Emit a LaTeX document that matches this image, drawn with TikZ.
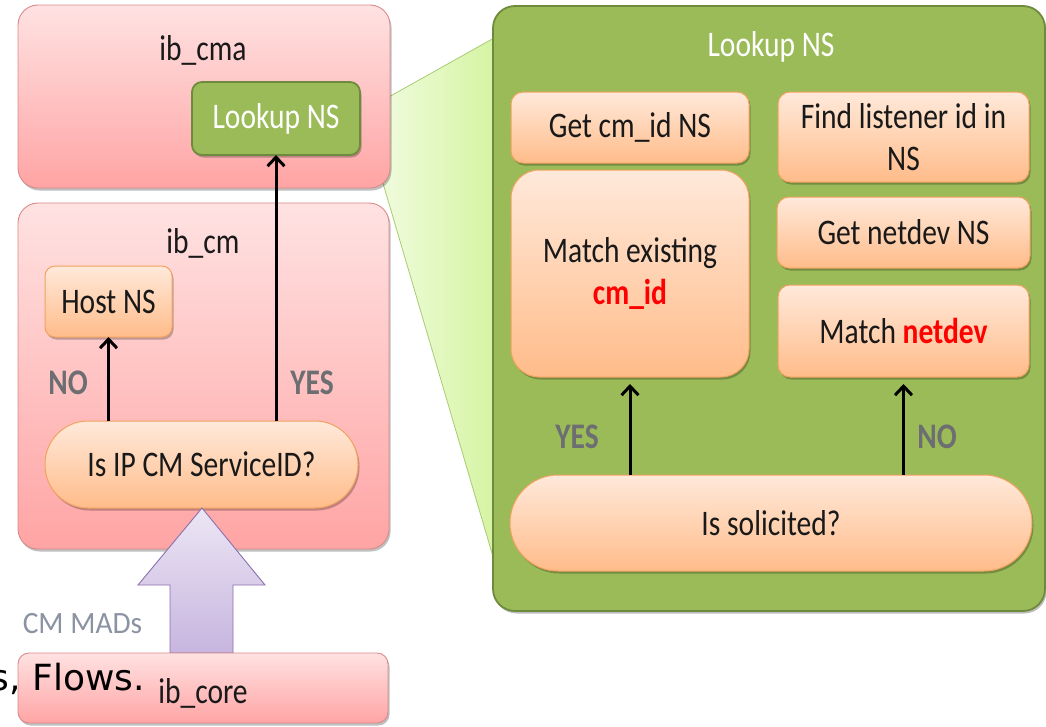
\documentclass[tikz,border=0pt]{standalone}
\usepackage{fontspec}
\setmainfont{Carlito}[FakeStretch=0.82]
\newfontfamily\madfont{Carlito}[FakeStretch=0.95]
\newfontfamily\flowfont{DejaVu Sans}
\usetikzlibrary{arrows.meta,shadows}

\definecolor{pinktop}{HTML}{FFE2E2}
\definecolor{pinkbot}{HTML}{FFA4A4}
\definecolor{pinkline}{HTML}{D98A88}
\definecolor{orangetop}{HTML}{FFE9DA}
\definecolor{orangebot}{HTML}{FFBC8A}
\definecolor{orangeline}{HTML}{F2A25E}
\definecolor{leaf}{HTML}{9BBB59}
\definecolor{leafline}{HTML}{6E8B3D}
\definecolor{zoomleft}{HTML}{F4FDE8}
\definecolor{zoomright}{HTML}{D5F4A2}
\definecolor{zoomline}{HTML}{A8CC70}
\definecolor{madtop}{HTML}{ECE6F4}
\definecolor{madbot}{HTML}{C7B5DF}
\definecolor{madline}{HTML}{8A70AE}
\definecolor{answer}{HTML}{6D6E71}
\definecolor{madtext}{HTML}{8B93A3}
\definecolor{hot}{HTML}{FF0000}

\tikzset{
  base/.style={font=\fontsize{36}{42}\selectfont, outer sep=0pt, inner sep=0pt},
  softshadow/.style={drop shadow={shadow xshift=1.5pt, shadow yshift=-2.5pt, opacity=0.25, fill=black}},
  layer/.style={base, draw=pinkline, line width=0.9pt, top color=pinktop, bottom color=pinkbot, rounded corners=20pt, softshadow},
  stepbox/.style={base, draw=orangeline, line width=1pt, top color=orangetop, bottom color=orangebot, rounded corners=12pt, softshadow, text=black!90, align=center},
  greenbox/.style={base, draw=leafline, line width=1.8pt, fill=leaf, text=white, softshadow},
  caption/.style={base, text=black!90},
  answerlbl/.style={base, font=\bfseries\fontsize{36}{42}\selectfont, text=answer},
  flowarrow/.style={line width=3pt, -{Straight Barb[length=9pt,width=17pt,line width=3pt]}},
}

\begin{document}
\begin{tikzpicture}[x=1pt,y=-1pt]
\useasboundingbox (0,0) rectangle (1046,726);

% zoom wedge from the small Lookup NS box to the enlarged view
\coordinate (wtip) at (362,112);
\coordinate (wtop) at (494,38);
\coordinate (wbot) at (494,560);
\shade[left color=zoomleft, right color=zoomright, draw=zoomline, line width=0.8pt]
  (wtip) -- (wtop) -- (wbot) -- cycle;

% ib_cma layer
\node[layer, minimum width=372, minimum height=183] (cma) at (204,96.5) {};
\node[caption] (cmat) at (203,50) {ib\_cma};
\node[greenbox, rounded corners=10pt, minimum width=168, minimum height=73] (lookup) at (276,118.5) {Lookup NS};

% ib_cm layer
\node[layer, minimum width=371, minimum height=346] (cm) at (203.5,376) {};
\node[caption] (cmt) at (203,243) {ib\_cm};
\node[stepbox, rounded corners=10pt, minimum width=127, minimum height=71] (host) at (108.5,301.5) {Host NS};
\node[stepbox, rounded corners=43pt, minimum width=313, minimum height=87] (isip) at (201.5,464.5) {Is IP CM ServiceID?};

\draw[flowarrow] (isip.north -| host.south) -- (host.south);
\draw[flowarrow] (isip.north -| lookup.south) -- (lookup.south);
\node[answerlbl] (no1) at (68,383) {NO};
\node[answerlbl] (yes1) at (312,383) {YES};

% CM MADs block arrow
\shade[top color=madtop, bottom color=madbot, draw=madline, line width=0.9pt]
  (170,653) -- (170,585) -- (138,585) -- (202,508) -- (265,585) -- (233,585) -- (233,653) -- cycle;
\node[base, font=\madfont\fontsize{31}{36}\selectfont, text=madtext] (mads) at (82.5,624) {CM MADs};

% ib_core layer
\node[layer, rounded corners=11pt, minimum width=370, minimum height=70] (core) at (203,688) {};
\node[caption] (coret) at (203,693) {ib\_core};
\node[base, anchor=base east, font=\flowfont\fontsize{36}{40}\selectfont, text=black] (flows) at (145,690) {s, Flows.};

% enlarged Lookup NS
\node[greenbox, rounded corners=22pt, minimum width=552, minimum height=605] (big) at (769,308.5) {};
\node[base, text=white] (bigt) at (771,47) {Lookup NS};

\node[stepbox, minimum width=238, minimum height=71] (getcm) at (630,127.5) {Get cm\_id NS};
\node[stepbox, minimum width=251, minimum height=90] (find) at (903.5,137) {Find listener id in\\NS};
\node[stepbox, rounded corners=28pt, minimum width=238, minimum height=207] (match) at (630,273.5)
  {Match existing\\{\bfseries\color{hot}cm\_id}};
\node[stepbox, minimum width=253, minimum height=71] (getnet) at (903.5,232.5) {Get netdev NS};
\node[stepbox, minimum width=251, minimum height=92] (matchnet) at (903.5,331)
  {Match {\bfseries\color{hot}netdev}};
\node[stepbox, rounded corners=48pt, minimum width=522, minimum height=96] (solic) at (771,523) {Is solicited?};

\draw[flowarrow, shorten >=7pt] (solic.north -| match.south) -- (match.south);
\draw[flowarrow, shorten >=7pt] (solic.north -| matchnet.south) -- (matchnet.south);
\node[answerlbl] (yes2) at (577,437) {YES};
\node[answerlbl] (no2) at (937,437) {NO};
\end{tikzpicture}
\end{document}
